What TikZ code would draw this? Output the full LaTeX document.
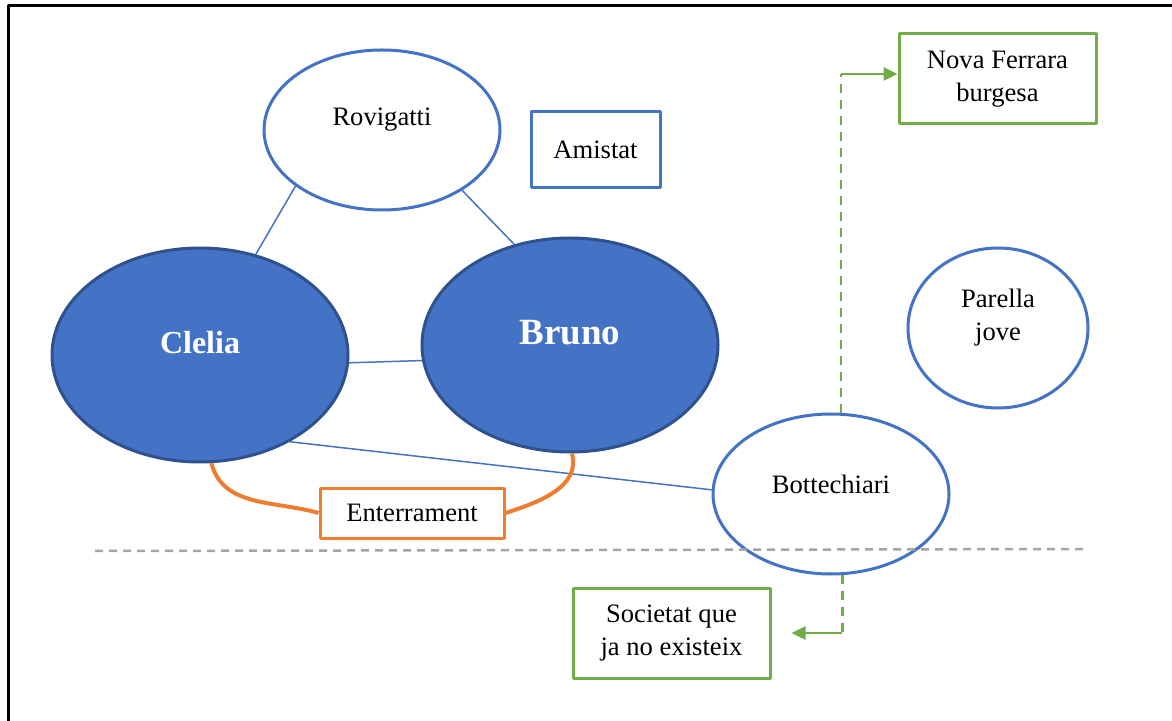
\documentclass[tikz,border=0pt]{standalone}
\usepackage{fontspec}
\setmainfont{Liberation Serif}
\usetikzlibrary{shapes.geometric,arrows.meta}

\definecolor{wblue}{HTML}{4472C4}
\definecolor{wdark}{HTML}{2F528F}
\definecolor{wgreen}{HTML}{70AD47}
\definecolor{worange}{HTML}{ED7D31}
\definecolor{wgray}{HTML}{A5A5A5}

\begin{document}
\begin{tikzpicture}[
  x=0.5pt,
  y=-0.5pt,
  line join=round,
  font=\fontsize{13.3}{16.5}\selectfont,
  bubble/.style={ellipse, draw=wblue, line width=1.5pt, fill=white, inner sep=0pt},
  person/.style={ellipse, draw=wdark, line width=1.5pt, fill=wblue, inner sep=0pt,
    minimum width=148pt, minimum height=107pt},
  tag/.style={rectangle, line width=1.5pt, fill=white, inner sep=0pt, align=center},
  link/.style={wblue, line width=0.75pt},
  burial/.style={worange, line width=2pt},
  fate/.style={wgreen, line width=1.25pt},
  fate dash/.style={fate, dash pattern=on 4.5pt off 3.5pt},
  fate arrow/.style={fate, -{Triangle[length=7pt,width=6.5pt]}},
]

  \useasboundingbox (0,0) rectangle (1172,721);
  \draw[line width=1.5pt] (8,721) -- (8,6) -- (1172,6);

  % people and places
  \node[bubble, minimum width=118pt, minimum height=80pt] (rov) at (382,130) {};
  \node (rov-txt) at (382,120) {Rovigatti};
  \node[tag, draw=wblue, minimum width=64.5pt, minimum height=38pt] (ami) at (595.5,150) {Amistat};

  \node[person] (cle) at (200,355) {};
  \node[text=white, font=\fontsize{16}{19}\selectfont\bfseries] (cle-txt) at (200,343) {Clelia};
  \node[person] (bru) at (570,345) {};
  \node[text=white, font=\fontsize{18.5}{22}\selectfont\bfseries] (bru-txt) at (570,333) {Bruno};

  \node[bubble, minimum width=90pt, minimum height=80pt] (par) at (998,328) {};
  \node[align=center] (par-txt) at (998,318) {Parella\\jove};
  \node[bubble, minimum width=118pt, minimum height=80pt] (bot) at (831,494) {};
  \node (bot-txt) at (831,484) {Bottechiari};

  \node[tag, draw=wgreen, minimum width=98.5pt, minimum height=45pt] (nova) at (997.5,79) {Nova Ferrara\\burgesa};
  \node[tag, draw=wgreen, minimum width=98.5pt, minimum height=45pt] (soc) at (671.5,633) {Societat que\\ja no existeix};
  \node[tag, draw=worange, minimum width=92pt, minimum height=25pt] (ent) at (412,513) {Enterrament};

  % relations
  \draw[link] (rov.213) -- (cle.61);
  \draw[link] (rov.-37) -- (bru.119);
  \draw[link] (cle.-3) -- (bru.186);
  \draw[link] (cle.-44) -- (bot.178);

  \draw[burial] (cle.-84) to[out=-75, in=164] (ent.west);
  \draw[burial] (bru.-89) to[out=-75, in=18] (ent.east);

  % past and future
  \coordinate (sep-a) at (95,551);
  \coordinate (sep-b) at (1083,549);
  \draw[wgray, line width=1.25pt, dash pattern=on 4pt off 3pt] (sep-a) -- (sep-b);

  \draw[fate dash] (bot.83) -- (bot.83 |- 0,74) coordinate (up-knee);
  \draw[fate arrow] (up-knee) -- (up-knee -| nova.west);
  \draw[fate dash] (bot.-82) -- (bot.-82 |- soc.east) coordinate (down-knee);
  \draw[fate arrow, shorten >=10pt] (down-knee) -- (soc.east);

\end{tikzpicture}
\end{document}
